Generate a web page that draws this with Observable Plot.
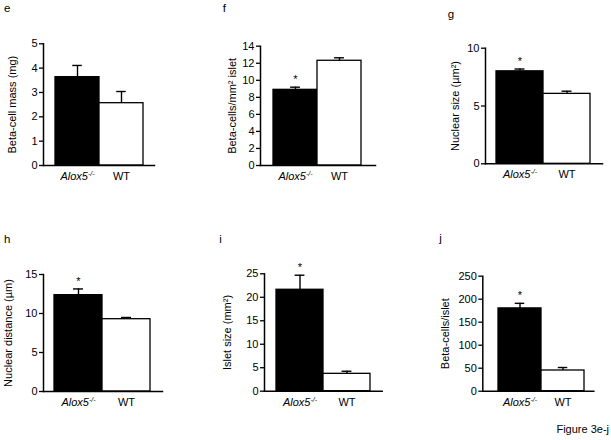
<!DOCTYPE html>
<html><head><meta charset="utf-8">
<script src="https://cdn.jsdelivr.net/npm/d3@7"></script>
<script src="https://cdn.jsdelivr.net/npm/@observablehq/plot@0.6"></script>
<style>
body{margin:0;background:#fff;}
#fig{position:relative;width:611px;height:440px;overflow:hidden;background:#fff;font-family:"Liberation Sans",Arial,sans-serif;}
#overlay{position:absolute;left:0;top:0;}
</style></head><body><div id="fig"></div>
<script>
// ---------- data ----------
const groups = ["Alox5-/-", "WT"];
const panelLetters = ["e", "f", "g", "h", "i", "j"];
const yLabels = ["Beta-cell mass (mg)", "Beta-cells/mm\u00B2 islet", "Nuclear size (\u00B5m\u00B2)", "Nuclear distance (\u00B5m)", "Islet size (mm\u00B2)", "Beta-cells/islet"];
const betaCellMass = [3.63, 2.56];
const betaCellMassSem = [0.48, 0.48];
const betaCellDensity = [8.88, 12.29];
const betaCellDensitySem = [0.31, 0.35];
const nuclearSize = [8.0, 6.05];
const nuclearSizeSem = [0.2, 0.23];
const nuclearDistance = [12.35, 9.27];
const nuclearDistanceSem = [0.8, 0.22];
const isletSize = [21.6, 3.7];
const isletSizeSem = [3.1, 0.55];
const betaCellsPerIslet = [180, 45];
const betaCellsPerIsletSem = [11, 6.5];
const significant = [[false, false], [true, false], [true, false], [true, false], [true, false], [true, false]];
const yTicks = [[0,1,2,3,4,5],[0,2,4,6,8,10,12,14],[0,5,10],[0,5,10,15],[0,5,10,15,20,25],[0,50,100,150,200,250]];
const barFills = ["black", "white"];
const caption = "Figure 3e-j";

const means = [betaCellMass, betaCellDensity, nuclearSize, nuclearDistance, isletSize, betaCellsPerIslet];
const sems = [betaCellMassSem, betaCellDensitySem, nuclearSizeSem, nuclearDistanceSem, isletSizeSem, betaCellsPerIsletSem];

// ---------- layout (page pixels) ----------
const layout = [
  {left: 0,   top: 0,   w: 200, h: 200, axisX: 43,    y0: 165,   yTop: 43.3,  barL: 54,    barR: 143,   axisEnd: 154,   labelOffset: 35, letter: [4, 12.3]},
  {left: 200, top: 0,   w: 200, h: 200, axisX: 260,   y0: 165,   yTop: 45.7,  barL: 272.7, barR: 361,   axisEnd: 375,   labelOffset: 32.5, letter: [222.7, 12.3]},
  {left: 400, top: 0,   w: 211, h: 200, axisX: 485,   y0: 163.3, yTop: 47.7,  barL: 496,   barR: 590,   axisEnd: 602,   labelOffset: 34, letter: [447.7, 18.3]},
  {left: 0,   top: 220, w: 200, h: 200, axisX: 43,    y0: 391,   yTop: 274,   barL: 54,    barR: 150,   axisEnd: 162,   labelOffset: 39, letter: [4, 243.3]},
  {left: 200, top: 220, w: 200, h: 200, axisX: 264,   y0: 390.7, yTop: 273.3, barL: 275.7, barR: 370,   axisEnd: 381.7, labelOffset: 41, letter: [219.3, 242.7]},
  {left: 400, top: 220, w: 211, h: 200, axisX: 482.3, y0: 390.7, yTop: 275.7, barL: 497.3, barR: 584.3, axisEnd: 593.3, labelOffset: 42, letter: [439.3, 242]}
];

const fig = document.getElementById("fig");
const FONT = "'Liberation Sans', Arial, Helvetica, sans-serif";

layout.forEach((L, p) => {
  const data = groups.map((g, i) => ({
    group: g, mean: means[p][i], err: means[p][i] + sems[p][i], star: significant[p][i], fill: barFills[i]
  }));
  const ticks = yTicks[p];
  const bw = (L.barR - L.barL) / 2;
  const capInset = (bw - 10) / 2;
  const svg = Plot.plot({
    width: L.w, height: L.h,
    marginLeft: L.axisX - L.left,
    marginRight: L.left + L.w - L.axisEnd,
    marginTop: L.yTop - L.top,
    marginBottom: L.top + L.h - L.y0,
    style: {fontFamily: FONT, fontSize: "11px", color: "black", background: "transparent", overflow: "visible"},
    x: {type: "band", domain: groups, range: [L.barL - L.left, L.barR - L.left], padding: 0},
    y: {domain: [ticks[0], ticks[ticks.length - 1]]},
    color: {type: "identity"},
    marks: [
      Plot.barY(data, {x: "group", y: "mean", fill: "fill", stroke: "black", strokeWidth: 1.3}),
      Plot.ruleX(data, {x: "group", y1: "mean", y2: "err", stroke: "black", strokeWidth: 1.4}),
      Plot.tickY(data, {x: "group", y: "err", stroke: "black", strokeWidth: 1.4, insetLeft: capInset, insetRight: capInset}),
      Plot.text(data.filter(d => d.star), {x: "group", y: "err", text: () => "*", lineAnchor: "bottom", dy: -4, fontSize: 11}),
      Plot.axisY({ticks, tickFormat: d => String(d), tickSize: 4, tickPadding: 2, strokeWidth: 1.3, fontSize: 11, label: yLabels[p], labelAnchor: "center", labelArrow: "none", labelOffset: L.labelOffset}),
      Plot.axisX({tickSize: 0, tickPadding: 6.5, fontSize: 11, label: null}),
      Plot.frame({anchor: "left", strokeWidth: 1.5}),
      Plot.frame({anchor: "bottom", strokeWidth: 1.5})
    ]
  });
  svg.style.position = "absolute";
  svg.style.left = L.left + "px";
  svg.style.top = L.top + "px";
  svg.style.maxWidth = "none";
  // italic genotype with superscript
  svg.querySelectorAll('g[aria-label="x-axis tick label"] text').forEach(t => {
    const s = t.textContent;
    if (s.indexOf("-/-") > 0) {
      t.textContent = "";
      const base = document.createElementNS("http://www.w3.org/2000/svg", "tspan");
      base.setAttribute("font-style", "italic");
      base.textContent = s.replace("-/-", "");
      const sup = document.createElementNS("http://www.w3.org/2000/svg", "tspan");
      sup.setAttribute("font-size", "7");
      sup.setAttribute("font-style", "italic");
      sup.setAttribute("dy", "-4");
      sup.textContent = "-/-";
      t.appendChild(base);
      t.appendChild(sup);
    }
  });
  fig.appendChild(svg);
});

// panel letters and caption
const overlay = d3.select(fig).append("svg").attr("id", "overlay").attr("width", 611).attr("height", 440)
  .style("font-family", FONT).style("pointer-events", "none");
overlay.selectAll("text.letter").data(panelLetters).join("text")
  .attr("class", "letter")
  .attr("x", (d, i) => layout[i].letter[0])
  .attr("y", (d, i) => layout[i].letter[1])
  .attr("font-size", 11.5)
  .text(d => d);
overlay.append("text").attr("x", 609).attr("y", 433).attr("text-anchor", "end").attr("font-size", 11).text(caption);
</script>
</body></html>
